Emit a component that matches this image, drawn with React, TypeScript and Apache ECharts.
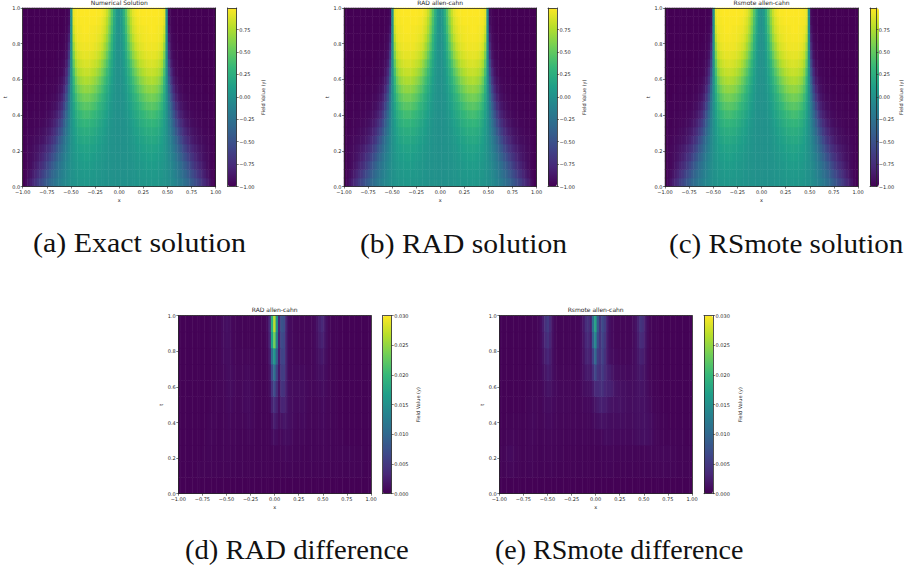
import React, { useEffect, useRef } from "react";
import * as echarts from "echarts";

// Solution field, u * 100. Rows t = 0 .. 1 (step 0.05). Columns x = 0 .. 1 (step 0.025); the field is even in x.
const solutionHalf: number[][] = [
[0,0,0,1,1,1,2,3,3,4,4,5,5,6,6,5,5,4,3,2,0,-2,-5,-8,-11,-15,-19,-24,-29,-34,-40,-46,-52,-58,-64,-71,-77,-83,-89,-95,-100],
[0,0,0,1,1,2,3,3,4,5,6,6,7,7,7,7,6,5,4,2,0,-3,-6,-10,-14,-19,-25,-30,-36,-42,-49,-55,-61,-68,-73,-79,-84,-89,-93,-97,-100],
[0,0,0,1,2,2,3,4,5,6,7,8,9,9,9,9,8,7,5,3,0,-4,-8,-13,-18,-24,-30,-37,-44,-51,-58,-65,-71,-76,-81,-85,-89,-93,-96,-98,-100],
[0,0,1,1,2,3,4,5,7,8,9,10,11,12,12,11,10,9,7,4,0,-5,-10,-16,-23,-31,-38,-46,-53,-60,-67,-72,-78,-82,-86,-89,-92,-94,-96,-98,-100],
[0,0,1,1,3,4,5,7,9,10,12,13,14,15,15,14,13,11,9,5,0,-6,-13,-21,-29,-38,-46,-55,-62,-69,-74,-79,-83,-86,-89,-91,-93,-95,-96,-98,-100],
[0,0,1,2,3,5,7,9,11,13,15,17,18,19,19,19,17,15,11,6,0,-8,-16,-26,-36,-46,-56,-65,-72,-77,-82,-86,-89,-91,-93,-94,-95,-96,-97,-98,-100],
[0,0,1,2,4,6,9,12,14,17,19,22,23,24,24,23,21,19,14,8,0,-10,-21,-33,-45,-56,-65,-73,-79,-84,-87,-90,-92,-94,-95,-96,-97,-97,-98,-99,-100],
[0,0,1,3,5,8,11,15,18,22,25,27,29,30,31,30,27,24,18,10,0,-12,-26,-40,-54,-65,-74,-81,-86,-89,-92,-94,-95,-96,-97,-97,-98,-98,-99,-99,-100],
[0,0,2,4,7,11,15,19,23,27,31,34,36,38,38,37,34,30,23,13,0,-16,-33,-49,-63,-75,-82,-87,-91,-93,-95,-96,-97,-97,-98,-98,-98,-99,-99,-99,-100],
[0,1,2,5,9,14,19,24,29,34,39,42,45,46,47,45,42,37,29,16,0,-20,-41,-59,-73,-82,-88,-92,-94,-96,-97,-97,-98,-98,-98,-99,-99,-99,-99,-99,-100],
[0,1,3,7,12,17,24,30,36,42,47,51,54,56,56,55,51,46,36,21,0,-25,-50,-68,-81,-88,-92,-95,-96,-97,-98,-98,-99,-99,-99,-99,-99,-99,-100,-100,-100],
[0,1,4,8,15,22,30,38,45,51,57,61,64,65,66,64,61,55,45,27,0,-32,-59,-77,-87,-92,-95,-97,-98,-98,-99,-99,-99,-99,-99,-99,-100,-100,-100,-100,-100],
[0,1,5,11,19,28,37,46,54,61,66,70,73,74,75,73,70,65,54,33,0,-40,-69,-84,-91,-95,-97,-98,-99,-99,-99,-99,-100,-100,-100,-100,-100,-100,-100,-100,-100],
[0,2,6,14,24,35,46,56,64,70,75,78,81,82,82,81,78,74,64,41,0,-49,-77,-89,-95,-97,-98,-99,-99,-99,-100,-100,-100,-100,-100,-100,-100,-100,-100,-100,-100],
[0,2,8,18,30,43,55,65,73,79,82,85,87,88,88,87,85,81,73,50,0,-58,-84,-93,-96,-98,-99,-99,-100,-100,-100,-100,-100,-100,-100,-100,-100,-100,-100,-100,-100],
[0,3,10,22,37,52,65,74,81,85,88,90,91,92,92,92,90,87,81,60,0,-68,-90,-96,-98,-99,-99,-100,-100,-100,-100,-100,-100,-100,-100,-100,-100,-100,-100,-100,-100],
[0,3,13,28,45,61,72,82,87,90,92,94,95,95,95,95,94,92,87,69,0,-76,-93,-97,-99,-99,-100,-100,-100,-100,-100,-100,-100,-100,-100,-100,-100,-100,-100,-100,-100],
[0,4,15,32,52,68,79,87,91,93,95,96,96,97,97,97,96,95,91,78,0,-83,-95,-98,-99,-100,-100,-100,-100,-100,-100,-100,-100,-100,-100,-100,-100,-100,-100,-100,-100],
[0,5,19,38,58,74,85,90,94,95,96,97,97,98,98,98,97,96,94,85,0,-89,-97,-99,-100,-100,-100,-100,-100,-100,-100,-100,-100,-100,-100,-100,-100,-100,-100,-100,-100],
[0,6,22,42,63,78,88,93,96,97,98,98,98,98,98,98,98,97,96,90,0,-93,-98,-99,-100,-100,-100,-100,-100,-100,-100,-100,-100,-100,-100,-100,-100,-100,-100,-100,-100],
[0,7,25,46,68,83,92,96,98,98,99,99,99,99,99,99,99,98,97,93,0,-95,-99,-100,-100,-100,-100,-100,-100,-100,-100,-100,-100,-100,-100,-100,-100,-100,-100,-100,-100],
];

// Differences, value * 10000. Rows t = 0 .. 1 (step 0.1). Columns x = -1 .. 1 (step 0.025).
const radDiff: number[][] = [
[1,1,1,1,1,1,1,1,1,1, 1,1,1,1,1,1,1,1,1,1, 1,1,1,1,1,1,1,1,1,1, 1,1,1,1,1,1,1,1,1,1, 1,1,1,1,1,1,1,1,1,1, 1,1,1,1,1,1,1,1,1,1, 1,1,1,1,1,1,1,1,1,1, 1,1,1,1,1,1,1,1,1,1, 1],
[2,2,2,2,2,2,2,2,3,3, 3,3,3,3,3,3,3,3,3,3, 4,4,3,3,3,3,3,3,3,3, 3,3,3,3,3,3,3,3,3,3, 3,3,3,3,4,4,4,4,3,3, 3,3,3,3,3,3,3,3,3,3, 4,4,4,3,3,3,3,3,3,3, 3,3,3,3,3,3,3,3,2,2, 2],
[2,2,2,2,2,2,2,2,2,2, 3,3,4,4,3,3,3,3,4,4, 5,5,4,4,3,3,3,3,3,3, 3,3,3,3,3,3,3,3,3,3, 4,4,4,5,6,7,6,5,4,4, 4,4,3,3,3,4,4,4,4,4, 5,5,5,4,4,3,3,4,4,4, 4,4,4,3,3,3,3,3,2,2, 2],
[2,2,2,2,2,2,2,2,2,2, 2,3,4,5,5,4,3,3,4,5, 5,6,5,5,4,4,3,3,4,5, 5,4,3,3,3,3,3,3,4,8, 12,9,6,8,10,10,10,8,6,5, 5,6,6,5,4,4,4,4,5,5, 6,6,5,4,4,3,3,3,3,3, 2,2,2,2,2,2,2,2,2,2, 2],
[2,2,2,2,2,2,2,2,2,2, 2,2,3,4,5,5,4,3,4,5, 6,7,6,5,5,5,5,5,6,7, 7,6,4,3,3,3,3,3,3,14, 25,18,10,14,18,16,12,10,8,7, 6,7,8,7,5,5,5,5,5,6, 7,7,6,5,4,3,3,2,2,2, 2,2,2,2,2,2,2,2,2,2, 2],
[2,2,2,2,2,2,2,2,2,2, 2,2,2,3,4,5,5,4,4,5, 7,8,8,6,5,5,6,7,8,8, 7,6,5,4,3,3,3,3,6,28, 40,28,12,30,30,22,12,10,9,8, 8,9,9,8,6,5,5,5,5,6, 8,8,6,5,4,3,3,2,2,2, 2,2,2,2,2,2,2,2,2,2, 2],
[2,2,2,2,2,2,2,2,2,2, 2,2,2,2,3,4,5,5,5,6, 8,9,9,7,6,6,6,7,8,8, 7,6,5,4,3,3,3,4,10,45, 70,40,15,45,42,25,12,10,9,9, 9,9,9,8,7,6,6,6,7,8, 10,9,7,5,4,3,3,2,2,2, 2,2,2,2,2,2,2,2,2,2, 2],
[2,2,2,2,2,2,2,2,2,2, 2,2,2,2,3,3,4,5,6,7, 9,10,9,7,6,6,6,6,7,7, 6,6,5,4,3,3,3,5,15,70, 110,60,20,55,55,28,10,8,8,8, 8,8,8,7,6,6,6,7,9,12, 14,11,8,5,4,3,3,2,2,2, 2,2,2,2,2,2,2,2,2,2, 2],
[2,2,2,2,2,2,2,2,2,2, 2,2,2,2,3,3,4,5,7,9, 10,10,8,6,5,5,5,5,5,5, 5,5,4,4,3,3,4,6,22,110, 160,90,25,62,62,28,10,8,7,6, 6,6,5,5,5,5,6,7,11,16, 20,15,9,5,4,3,3,2,2,2, 2,2,2,2,2,2,2,2,2,2, 2],
[2,2,2,2,2,2,2,2,2,2, 2,2,2,3,3,3,4,5,8,10, 12,11,7,5,4,4,3,3,3,3, 3,3,3,3,3,3,4,8,30,170, 235,130,28,70,65,28,10,8,6,6, 5,5,5,5,5,5,6,8,14,22, 28,20,11,6,4,3,3,3,2,2, 2,2,2,2,2,2,2,2,2,2, 2],
[2,2,2,2,2,2,2,2,2,2, 2,2,2,3,3,3,4,5,8,11, 14,11,7,5,4,4,3,3,3,3, 3,3,3,3,3,4,5,10,35,190, 270,150,32,78,72,30,10,8,6,5, 5,5,5,5,5,5,6,8,16,26, 34,24,12,6,4,3,3,3,2,2, 2,2,2,2,2,2,2,2,2,2, 2],
];

const rsmoteDiff: number[][] = [
[1,1,1,1,1,1,1,1,1,1, 1,1,1,1,1,1,1,1,1,1, 1,1,1,1,1,1,1,1,1,1, 1,1,1,1,1,1,1,1,1,1, 1,1,1,1,1,1,1,1,1,1, 1,1,1,1,1,1,1,1,1,1, 1,1,1,1,1,1,1,1,1,1, 1,1,1,1,1,1,1,1,1,1, 1],
[3,3,4,5,6,6,5,4,3,3, 3,3,4,4,4,3,3,3,3,3, 3,4,4,3,3,3,3,3,3,3, 3,3,3,3,3,3,3,3,3,3, 3,3,3,3,4,4,4,4,3,3, 3,3,3,3,3,3,3,3,3,3, 4,4,4,4,4,4,4,4,5,5, 5,4,4,4,4,3,3,3,3,3, 2],
[3,4,5,7,8,8,6,5,4,3, 3,4,5,5,4,4,3,3,4,4, 5,5,5,4,4,4,4,3,3,3, 3,3,3,3,3,3,3,3,3,3, 3,3,4,4,4,5,5,5,4,4, 4,4,4,4,4,4,4,4,4,4, 5,5,6,6,5,5,5,5,6,6, 6,6,5,4,4,3,3,3,3,3, 2],
[2,3,3,4,5,5,5,4,3,3, 3,4,5,6,6,5,4,4,5,5, 6,6,6,5,5,5,4,4,4,4, 4,4,4,4,4,5,5,4,4,5, 6,6,6,7,9,9,9,8,7,7, 7,7,7,7,7,7,8,9,10,11, 12,13,12,10,8,6,5,4,4,3, 3,3,3,3,3,3,3,3,2,2, 2],
[2,2,2,3,3,3,3,3,3,3, 3,3,5,6,7,6,5,5,6,7, 8,8,7,6,6,5,5,5,5,5, 5,5,5,5,5,6,6,6,6,8, 10,12,14,15,14,12,11,10,10,10, 10,10,10,9,9,9,10,11,12,13, 14,14,12,10,8,6,4,4,3,3, 3,2,2,2,2,2,2,2,2,2, 2],
[2,2,2,2,2,2,2,2,2,2, 2,3,4,5,6,6,5,5,7,9, 10,10,8,7,6,6,6,6,6,6, 5,5,5,5,6,7,7,7,8,12, 18,22,26,26,24,20,17,15,14,14, 15,14,12,11,10,10,11,12,13,14, 14,13,10,8,6,4,3,3,2,2, 2,2,2,2,2,2,2,2,2,2, 2],
[2,2,2,2,2,2,2,2,2,2, 2,2,3,4,5,5,5,6,8,12, 16,15,10,8,7,6,6,6,6,6, 5,5,5,5,7,10,12,12,14,22, 35,35,38,40,32,28,28,25,18,15, 14,13,12,11,10,10,10,12,14,16, 15,13,9,6,5,3,3,2,2,2, 2,2,2,2,2,2,2,2,2,2, 2],
[2,2,2,2,2,2,2,2,2,2, 2,2,3,3,4,4,5,7,12,18, 24,20,12,8,6,5,5,5,5,5, 5,5,4,5,8,14,20,22,20,40, 65,45,40,50,38,28,24,18,12,10, 9,9,9,8,8,9,10,13,16,20, 18,14,8,5,4,3,3,2,2,2, 2,2,2,2,2,2,2,2,2,2, 2],
[2,2,2,2,2,2,2,2,2,2, 2,2,2,3,3,4,5,8,16,26, 32,24,12,7,5,4,4,4,4,4, 4,4,4,5,8,16,28,30,24,60, 100,55,45,58,42,22,14,10,8,7, 6,6,6,6,6,7,9,13,19,27, 25,16,8,5,4,3,3,2,2,2, 2,2,2,2,2,2,2,2,2,2, 2],
[2,2,2,2,2,2,2,2,2,2, 2,2,2,3,3,3,5,9,20,35, 42,30,14,7,4,4,4,4,4,4, 4,4,4,5,8,18,32,36,26,90, 140,70,45,62,48,22,12,8,6,5, 5,5,5,5,5,6,9,14,24,38, 34,20,9,5,4,3,3,2,2,2, 2,2,2,2,2,2,2,2,2,2, 2],
[2,2,2,2,2,2,2,2,2,2, 2,2,2,3,3,3,5,10,24,42, 50,34,15,7,4,4,4,4,4,4, 4,4,4,5,9,20,38,42,30,110, 175,85,45,68,55,25,12,8,6,5, 5,5,5,5,5,6,10,15,28,46, 40,22,10,5,4,3,3,2,2,2, 2,2,2,2,2,2,2,2,2,2, 2],
];

const titles = ["Numerical Solution", "RAD allen-cahn", "Rsmote allen-cahn", "RAD allen-cahn", "Rsmote allen-cahn"];
const captions = ["(a) Exact solution", "(b) RAD solution", "(c) RSmote solution", "(d) RAD difference", "(e) RSmote difference"];
const viridis = ["#440154", "#482878", "#3e4989", "#31688e", "#26828e", "#1f9e89", "#35b779", "#6ece58", "#b5de2b", "#fde725"];

const mirrored = solutionHalf.map((r) => [...r.slice(1).reverse(), ...r]);

// layout: plot left, top, width, height, colour bar left, caption left/middle y/stretch, colour-bar name gap
const layout = [
  { l: 22.7, t: 8, w: 193, h: 178.5, c: 227.7, cap: 33, capY: 243.5, sx: 1.11, gap: 24 },
  { l: 344, t: 8, w: 192.5, h: 178.5, c: 548, cap: 360, capY: 243.5, sx: 1.096, gap: 24 },
  { l: 665, t: 8, w: 193, h: 178.5, c: 870, cap: 669, capY: 243.5, sx: 1.078, gap: 21.5 },
  { l: 178.3, t: 315.7, w: 192.7, h: 178, c: 382.7, cap: 185, capY: 549.5, sx: 1.062, gap: 24 },
  { l: 499.3, t: 315.7, w: 192.7, h: 178, c: 704, cap: 495, capY: 549.5, sx: 1.038, gap: 24 },
];

const panels = [
  { rows: mirrored, scale: 100, min: -1, max: 0.99, step: 0.25, digits: 2 },
  { rows: mirrored, scale: 100, min: -1, max: 0.99, step: 0.25, digits: 2 },
  { rows: mirrored, scale: 100, min: -1, max: 0.99, step: 0.25, digits: 2 },
  { rows: radDiff, scale: 10000, min: 0, max: 0.03, step: 0.005, digits: 3 },
  { rows: rsmoteDiff, scale: 10000, min: 0, max: 0.03, step: 0.005, digits: 3 },
];

const INK = "#262626";
const FONT = "DejaVu Sans";
const fmt = (d: number) => (v: number) => v.toFixed(d).replace("-", "\u2212");
const lineStyle = { color: INK, width: 0.8 };
const frameAxis = (gridIndex: number, position: string, extra: any) => ({
  gridIndex,
  position,
  show: true,
  z: 6,
  axisLine: { show: true, onZero: false, lineStyle },
  axisTick: { show: false },
  axisLabel: { show: false },
  splitLine: { show: false },
  ...extra,
});
const tickAxis = (gridIndex: number, position: string, extra: any, digits: number) => ({
  gridIndex,
  position,
  type: "value",
  z: 6,
  axisLine: { show: true, onZero: false, lineStyle },
  axisTick: { show: true, length: 2, lineStyle: { color: INK, width: 0.6 } },
  axisLabel: { show: true, fontSize: 5, margin: 2.5, color: INK, fontFamily: FONT, formatter: fmt(digits) },
  splitLine: { show: false },
  nameTextStyle: { fontSize: 5, color: INK, fontFamily: FONT },
  ...extra,
});

function buildOption() {
  const grid: any[] = [];
  const xAxis: any[] = [];
  const yAxis: any[] = [];
  const series: any[] = [];
  const visualMap: any[] = [];
  const title: any[] = [];
  const graphic: any[] = [];

  panels.forEach((p, i) => {
    const g = layout[i];
    const xIndex = xAxis.length;
    const yIndex = yAxis.length;
    const cols = p.rows[0].map((_, k) => String(k));
    const rowsCat = p.rows.map((_, k) => String(k));
    const data: number[][] = [];
    p.rows.forEach((row, y) => row.forEach((v, x) => data.push([x, y, v / p.scale])));

    // main plot
    grid.push({ left: g.l, top: g.t, width: g.w, height: g.h, containLabel: false });
    xAxis.push(frameAxis(grid.length - 1, "top", { type: "category", data: cols, boundaryGap: true }));
    xAxis.push(
      tickAxis(grid.length - 1, "bottom", { min: -1, max: 1, interval: 0.25, name: "x", nameLocation: "middle", nameGap: 11 }, 2),
    );
    yAxis.push(frameAxis(grid.length - 1, "right", { type: "category", data: rowsCat, boundaryGap: true }));
    yAxis.push(
      tickAxis(grid.length - 1, "left", { min: 0, max: 1, interval: 0.2, name: "t", nameLocation: "middle", nameGap: 15, nameRotate: 90 }, 1),
    );
    series.push({
      type: "heatmap",
      xAxisIndex: xIndex,
      yAxisIndex: yIndex,
      data,
      progressive: 0,
      silent: true,
      emphasis: { disabled: true },
    });

    // colour bar
    visualMap.push({
      type: "continuous",
      seriesIndex: i,
      dimension: 2,
      min: p.min,
      max: p.max,
      show: true,
      calculable: false,
      left: g.c,
      top: g.t,
      itemWidth: 9,
      itemHeight: g.h,
      padding: 0,
      text: null,
      inRange: { color: viridis },
    });
    grid.push({ left: g.c, top: g.t, width: 9, height: g.h, containLabel: false });
    xAxis.push(frameAxis(grid.length - 1, "top", { type: "value", min: 0, max: 1 }));
    xAxis.push(frameAxis(grid.length - 1, "bottom", { type: "value", min: 0, max: 1 }));
    yAxis.push(frameAxis(grid.length - 1, "left", { type: "value", min: p.min, max: p.max }));
    const isSolution = p.digits === 2;
    const axis: any = tickAxis(
      grid.length - 1,
      "right",
      { min: p.min, max: p.max, interval: p.step, name: "Field Value (y)", nameLocation: "middle", nameGap: g.gap, nameRotate: 90 },
      p.digits,
    );
    if (isSolution) axis.axisLabel.showMaxLabel = false;
    yAxis.push(axis);

    title.push({
      text: titles[i],
      left: g.l + g.w / 2,
      top: g.t - 9,
      textAlign: "center",
      padding: 0,
      textStyle: { fontSize: 6, fontWeight: "normal", color: INK, fontFamily: FONT },
    });
    graphic.push({
      type: "text",
      x: g.cap,
      y: g.capY,
      scaleX: g.sx,
      style: {
        text: captions[i],
        fontSize: 27,
        fontFamily: "Liberation Serif",
        fill: "#111",
        textAlign: "left",
        textVerticalAlign: "middle",
      },
    });
  });

  return { animation: false, backgroundColor: "#ffffff", title, graphic, grid, xAxis, yAxis, visualMap, series };
}

export default function App() {
  const ref = useRef<HTMLDivElement>(null);
  useEffect(() => {
    const chart = echarts.init(ref.current!, null, { renderer: "svg" });
    chart.setOption(buildOption());
    return () => chart.dispose();
  }, []);
  return <div ref={ref} style={{ position: "absolute", left: 0, top: 0, width: 904, height: 569 }} />;
}
